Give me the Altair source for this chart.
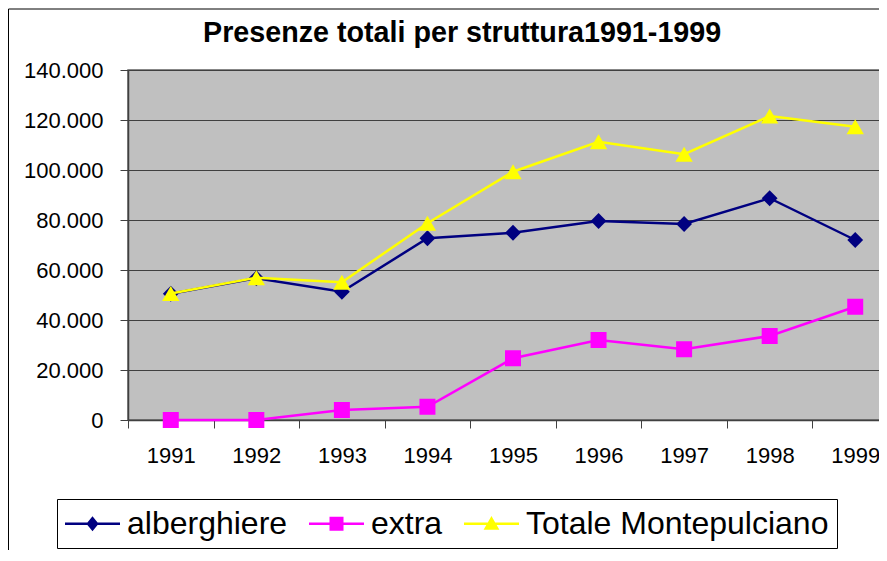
import altair as alt
import pandas as pd

years = [1991, 1992, 1993, 1994, 1995, 1996, 1997, 1998, 1999]
alberghiere = [50500, 56700, 51300, 72700, 74900, 79600, 78400, 88700, 72000]
extra = [0, 0, 4000, 5300, 24700, 32000, 28300, 33600, 45300]
totale = [50600, 56900, 55100, 78700, 99300, 111300, 106300, 121600, 117300]

series_names = ["alberghiere", "extra", "Totale Montepulciano"]
series_colors = ["#000080", "#FF00FF", "#FFFF00"]
plot_shapes = ["diamond", "square", "triangle-up"]
plot_sizes = [250, 256, 300]
y_ticks = [0, 20000, 40000, 60000, 80000, 100000, 120000, 140000]

# legend symbols: a line segment with the marker in its middle (unit = sqrt(size)/2 px)
legend_shapes = [
    "M-1.1,0H2.567M0.433,0L0.733,-0.37L1.033,0L0.733,0.37Z",
    "M-1.1,0H2.567M0.35,-0.383H1.117V0.383H0.35Z",
    "M-1.1,0H2.567M0.733,-0.35L1.116,0.317L0.35,0.317Z",
]

rows = []
for name, vals in zip(series_names, [alberghiere, extra, totale]):
    for yr, v in zip(years, vals):
        rows.append({"year": str(yr), "value": v, "series": name})
df = pd.DataFrame(rows)

FONT = "Liberation Sans"

x_enc = alt.X(
    "year:O",
    bandPosition=0.5,
    scale=alt.Scale(type="band", paddingInner=0, paddingOuter=0),
    axis=alt.Axis(
        title=None, labelAngle=0, tickBand="extent", ticks=True, tickSize=8,
        tickColor="#404040", domainColor="#404040", domainWidth=1.5,
        labelFont=FONT, labelFontSize=22, labelColor="black",
        labelPadding=34, labelBaseline="alphabetic", grid=False,
    ),
)
y_enc = alt.Y(
    "value:Q",
    scale=alt.Scale(domain=[0, 140000], nice=False),
    axis=alt.Axis(
        title=None, values=y_ticks,
        labelExpr="replace(format(datum.value, ','), regexp(',', 'g'), '.')",
        tickSize=8, tickColor="#404040", domainColor="#404040", domainWidth=1.5,
        gridColor="#404040", gridWidth=1,
        labelFont=FONT, labelFontSize=22, labelColor="black", labelPadding=17,
    ),
)

frame = alt.Chart(pd.DataFrame({"f": [0]})).mark_rect(
    fillOpacity=0, stroke="black", strokeWidth=1
).encode(x=alt.value(-119.5), x2=alt.value(3000), y=alt.value(-61), y2=alt.value(3000))

layers = [frame]
for i, name in enumerate(series_names):
    base = alt.Chart(df).transform_filter(alt.datum.series == name)
    layers.append(base.mark_line(strokeWidth=2.5, color=series_colors[i]).encode(x=x_enc, y=y_enc))
    layers.append(
        base.mark_point(
            filled=True, opacity=1, color=series_colors[i], shape=plot_shapes[i], size=plot_sizes[i]
        ).encode(x=x_enc, y=y_enc)
    )

leg_obj = alt.Legend(
    title=None, orient="none", legendX=-71, legendY=429, direction="horizontal",
    labelFont=FONT, labelFontSize=32, labelColor="black", labelOffset=29, labelLimit=600,
    columnPadding=16, padding=8, symbolSize=900, symbolStrokeWidth=2.5,
    strokeColor="black", fillColor="white",
)
leg = alt.Chart(df).transform_filter("false").mark_point(filled=True, opacity=1, strokeWidth=2.5).encode(
    x=x_enc, y=y_enc,
    fill=alt.Fill("series:N", scale=alt.Scale(domain=series_names, range=series_colors), legend=leg_obj),
    stroke=alt.Stroke("series:N", scale=alt.Scale(domain=series_names, range=series_colors), legend=leg_obj),
    shape=alt.Shape("series:N", scale=alt.Scale(domain=series_names, range=legend_shapes), legend=leg_obj),
)
layers.append(leg)

chart = alt.layer(*layers).properties(
    width=770, height=350,
    padding={"left": 120, "top": 62, "right": -19, "bottom": 130},
    autosize=alt.AutoSizeParams(type="none"),
    title=alt.TitleParams(
        text="Presenze totali per struttura1991-1999", font=FONT, fontSize=28.7, fontWeight="bold",
        color="black", anchor="start", frame="group", dx=75, offset=-62, baseline="alphabetic",
    ),
).configure_view(fill="#C0C0C0", stroke="#606060", strokeWidth=1.5)

chart.save("out.html", embed_options={"renderer": "svg", "actions": False})
